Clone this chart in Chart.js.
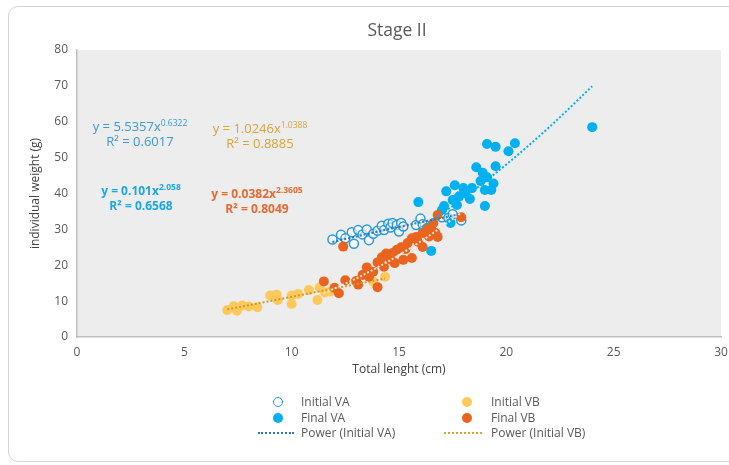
<!DOCTYPE html>
<html>
<head>
<meta charset="utf-8">
<script src="https://cdn.jsdelivr.net/npm/chart.js@4.4.1/dist/chart.umd.min.js"></script>
<style>
  html, body { margin:0; padding:0; background:#fff; overflow:hidden; }
  #wrap { position:relative; width:729px; height:465px; overflow:hidden; }
  #frame { position:absolute; left:8px; top:6px; width:760px; height:456px; border:1px solid #d4d4d4; border-radius:10px; box-sizing:border-box; }
  canvas { position:absolute; left:0; top:0; }
  .title { position:absolute; left:397px; top:17px; transform:translateX(-50%); font-family:"Open Sans",sans-serif; font-size:17.5px; color:#595959; white-space:nowrap; }
  .eq { position:absolute; transform:translateX(-50%); text-align:center; font-family:"Open Sans",sans-serif; font-size:13px; line-height:15px; white-space:nowrap; }
  .eq.b { font-weight:bold; font-size:12px; }
  .eq sup { font-size:8.5px; vertical-align:5px; line-height:0; }
  .lg { position:absolute; font-family:"Open Sans",sans-serif; font-size:12px; color:#595959; white-space:nowrap; line-height:14px; }
  .mk { position:absolute; width:10px; height:10px; border-radius:50%; box-sizing:border-box; }
  .ln { position:absolute; height:0; border-top:2px dotted; }
</style>
</head>
<body>
<div id="wrap">
  <div id="frame"></div>
  <canvas id="c" width="729" height="465"></canvas>
  <div class="title">Stage II</div>

  <div class="eq" style="left:140px;top:119px;color:#3a9ad6">y = 5.5357x<sup>0.6322</sup><br>R² = 0.6017</div>
  <div class="eq" style="left:260px;top:121px;color:#d6a43a">y = 1.0246x<sup>1.0388</sup><br>R² = 0.8885</div>
  <div class="eq b" style="left:141px;top:183px;color:#1aa8e4">y = 0.101x<sup>2.058</sup><br>R² = 0.6568</div>
  <div class="eq b" style="left:257px;top:186px;color:#e8692f">y = 0.0382x<sup>2.3605</sup><br>R² = 0.8049</div>

  <div class="mk" style="left:273px;top:397px;border:1.5px solid #2b9ad9;background:#fff"></div>
  <div class="lg" style="left:301px;top:395px">Initial VA</div>
  <div class="mk" style="left:273px;top:413px;background:#00b0f0"></div>
  <div class="lg" style="left:301px;top:411px">Final VA</div>
  <div class="ln" style="left:258px;top:432px;width:36px;border-color:#2e75b6"></div>
  <div class="lg" style="left:301px;top:426px">Power (Initial VA)</div>

  <div class="mk" style="left:462px;top:397px;background:#fec95a"></div>
  <div class="lg" style="left:491px;top:395px">Initial VB</div>
  <div class="mk" style="left:462px;top:413px;background:#e9641f"></div>
  <div class="lg" style="left:491px;top:411px">Final VB</div>
  <div class="ln" style="left:444px;top:432px;width:38px;border-color:#d9a530"></div>
  <div class="lg" style="left:491px;top:426px">Power (Initial VB)</div>
</div>
<script>
// ---- data (Total length cm, individual weight g) ----
const initialVA = [[11.9,27.2],[12.3,28.5],[12.5,27.5],[12.8,29.2],[12.9,26.0],[13.1,29.8],[13.3,28.6],[13.5,30.0],[13.6,27.0],[13.8,28.8],[14.0,29.6],[14.2,31.0],[14.3,29.8],[14.5,31.6],[14.6,30.5],[14.7,31.8],[14.9,31.2],[15.0,29.4],[15.1,31.8],[15.2,30.8],[15.8,31.2],[16.0,33.0],[16.1,31.4],[16.3,30.2],[17.0,33.4],[17.3,33.2],[17.5,34.2],[17.9,32.5]];
const finalVA = [[15.9,37.6],[16.5,24.0],[17.0,35.4],[17.1,36.5],[17.2,40.6],[17.4,31.8],[17.5,38.2],[17.6,42.3],[17.7,36.8],[17.8,39.2],[18.0,41.5],[18.1,40.0],[18.3,38.5],[18.4,41.5],[18.6,47.3],[18.8,43.5],[18.9,45.8],[19.0,36.5],[19.0,41.0],[19.1,44.5],[19.1,53.8],[19.3,41.0],[19.4,42.8],[19.5,47.6],[19.5,53.0],[20.1,51.8],[20.4,54.0],[24.0,58.5]];
const initialVB = [[7.0,7.5],[7.3,8.6],[7.45,7.3],[7.7,8.8],[8.0,8.5],[8.4,8.3],[9.0,11.6],[9.3,11.8],[9.35,10.3],[10.0,11.6],[10.0,9.2],[10.3,12.0],[10.8,13.1],[11.2,10.3],[11.3,13.8],[11.55,12.4],[11.8,12.7],[13.8,15.4],[14.35,16.8]];
const finalVB = [[11.5,15.5],[12.0,13.7],[12.2,12.2],[12.4,25.2],[12.5,15.8],[13.0,15.6],[13.1,14.6],[13.3,17.3],[13.5,19.4],[13.6,16.8],[13.8,18.2],[14.0,13.9],[14.0,20.8],[14.2,22.2],[14.3,19.6],[14.4,23.3],[14.6,21.6],[14.7,23.4],[14.8,20.6],[14.9,24.3],[15.1,25.0],[15.2,21.5],[15.3,24.5],[15.4,26.2],[15.6,22.0],[15.6,27.5],[15.8,27.9],[15.9,26.5],[16.1,25.1],[16.1,29.0],[16.3,30.4],[16.4,28.0],[16.5,30.7],[16.6,31.8],[16.7,29.0],[16.8,27.9],[16.8,34.0],[17.9,33.4]];
// trend lines
const trendInitialVA = [[11.9,26.5],[13.0,28.0],[15.0,30.7],[17.9,34.3]];
const trendFinalVA = [[15.9,30.0],[18.0,38.7],[20.0,48.1],[22.0,58.5],[24.0,69.9]];
const trendInitialVB = [[7.0,7.7],[10.0,11.2],[14.35,16.3]];
const trendFinalVB = [[11.5,12.2],[13.0,16.3],[14.5,21.1],[16.0,26.6],[17.9,34.6]];
// axis ticks
const xTicks = [0,5,10,15,20,25,30];
const yTicks = [0,10,20,30,40,50,60,70,80];

const pts = a => a.map(p => ({x:p[0], y:p[1]}));

const bgPlugin = {
  id:'plotBg',
  beforeDraw(chart){
    const {ctx, chartArea:a} = chart;
    ctx.save();
    ctx.fillStyle = '#ededed';
    ctx.fillRect(a.left, a.top, a.right-a.left, a.bottom-a.top);
    ctx.restore();
  }
};

const trend = (data, color, order) => ({
  type:'line', data:pts(data), borderColor:color, borderWidth:2, borderDash:[2,2],
  pointRadius:0, fill:false, cubicInterpolationMode:'monotone', order
});

new Chart(document.getElementById('c'), {
  type:'scatter',
  data:{ datasets:[
    trend(trendFinalVB, '#fbe2d2', 0),
    trend(trendInitialVB, '#c99a2e', 0),
    trend(trendInitialVA, '#2e75b6', 0),
    trend(trendFinalVA, '#00b0f0', 0),
    { label:'Final VB', data:pts(finalVB), backgroundColor:'#e9641f', borderColor:'#e9641f', pointRadius:5, pointBorderWidth:0, order:1 },
    { label:'Initial VB', data:pts(initialVB), backgroundColor:'#fec95a', borderColor:'#fec95a', pointRadius:5, pointBorderWidth:0, order:2 },
    { label:'Final VA', data:pts(finalVA), backgroundColor:'#00b0f0', borderColor:'#00b0f0', pointRadius:5, pointBorderWidth:0, order:3 },
    { label:'Initial VA', data:pts(initialVA), backgroundColor:'rgba(255,255,255,0.55)', borderColor:'#2b9ad9', pointRadius:4.5, pointBorderWidth:1.5, order:4 }
  ]},
  options:{
    responsive:false, animation:false,
    layout:{ padding:{left:8, right:8, top:50, bottom:83} },
    plugins:{ legend:{display:false}, tooltip:{enabled:false}, title:{display:false} },
    scales:{
      x:{ type:'linear', min:xTicks[0], max:xTicks[xTicks.length-1],
        afterFit(s){ s.height = 45; s.paddingLeft = 0; s.paddingRight = 0; },
        afterBuildTicks(s){ s.ticks = xTicks.map(v=>({value:v})); },
        grid:{display:false, drawTicks:false},
        border:{display:true, color:'#bfbfbf', width:1.5},
        ticks:{ padding:8, color:'#595959', font:{family:'Open Sans', size:12}, maxRotation:0 },
        title:{ display:true, text:'Total lenght (cm)', color:'#404040', font:{family:'Open Sans', size:12}, padding:{top:0,bottom:5} }
      },
      y:{ type:'linear', min:yTicks[0], max:yTicks[yTicks.length-1],
        afterFit(s){ s.width = 69; s.paddingTop = 0; s.paddingBottom = 0; },
        afterBuildTicks(s){ s.ticks = yTicks.map(v=>({value:v})); },
        grid:{display:false, drawTicks:false},
        border:{display:true, color:'#bfbfbf', width:1.5},
        ticks:{ padding:9, color:'#595959', font:{family:'Open Sans', size:12} },
        title:{ display:true, text:'individual weight (g)', color:'#404040', font:{family:'Open Sans', size:12}, padding:{top:20,bottom:0} }
      }
    }
  },
  plugins:[bgPlugin]
});
</script>
</body>
</html>
